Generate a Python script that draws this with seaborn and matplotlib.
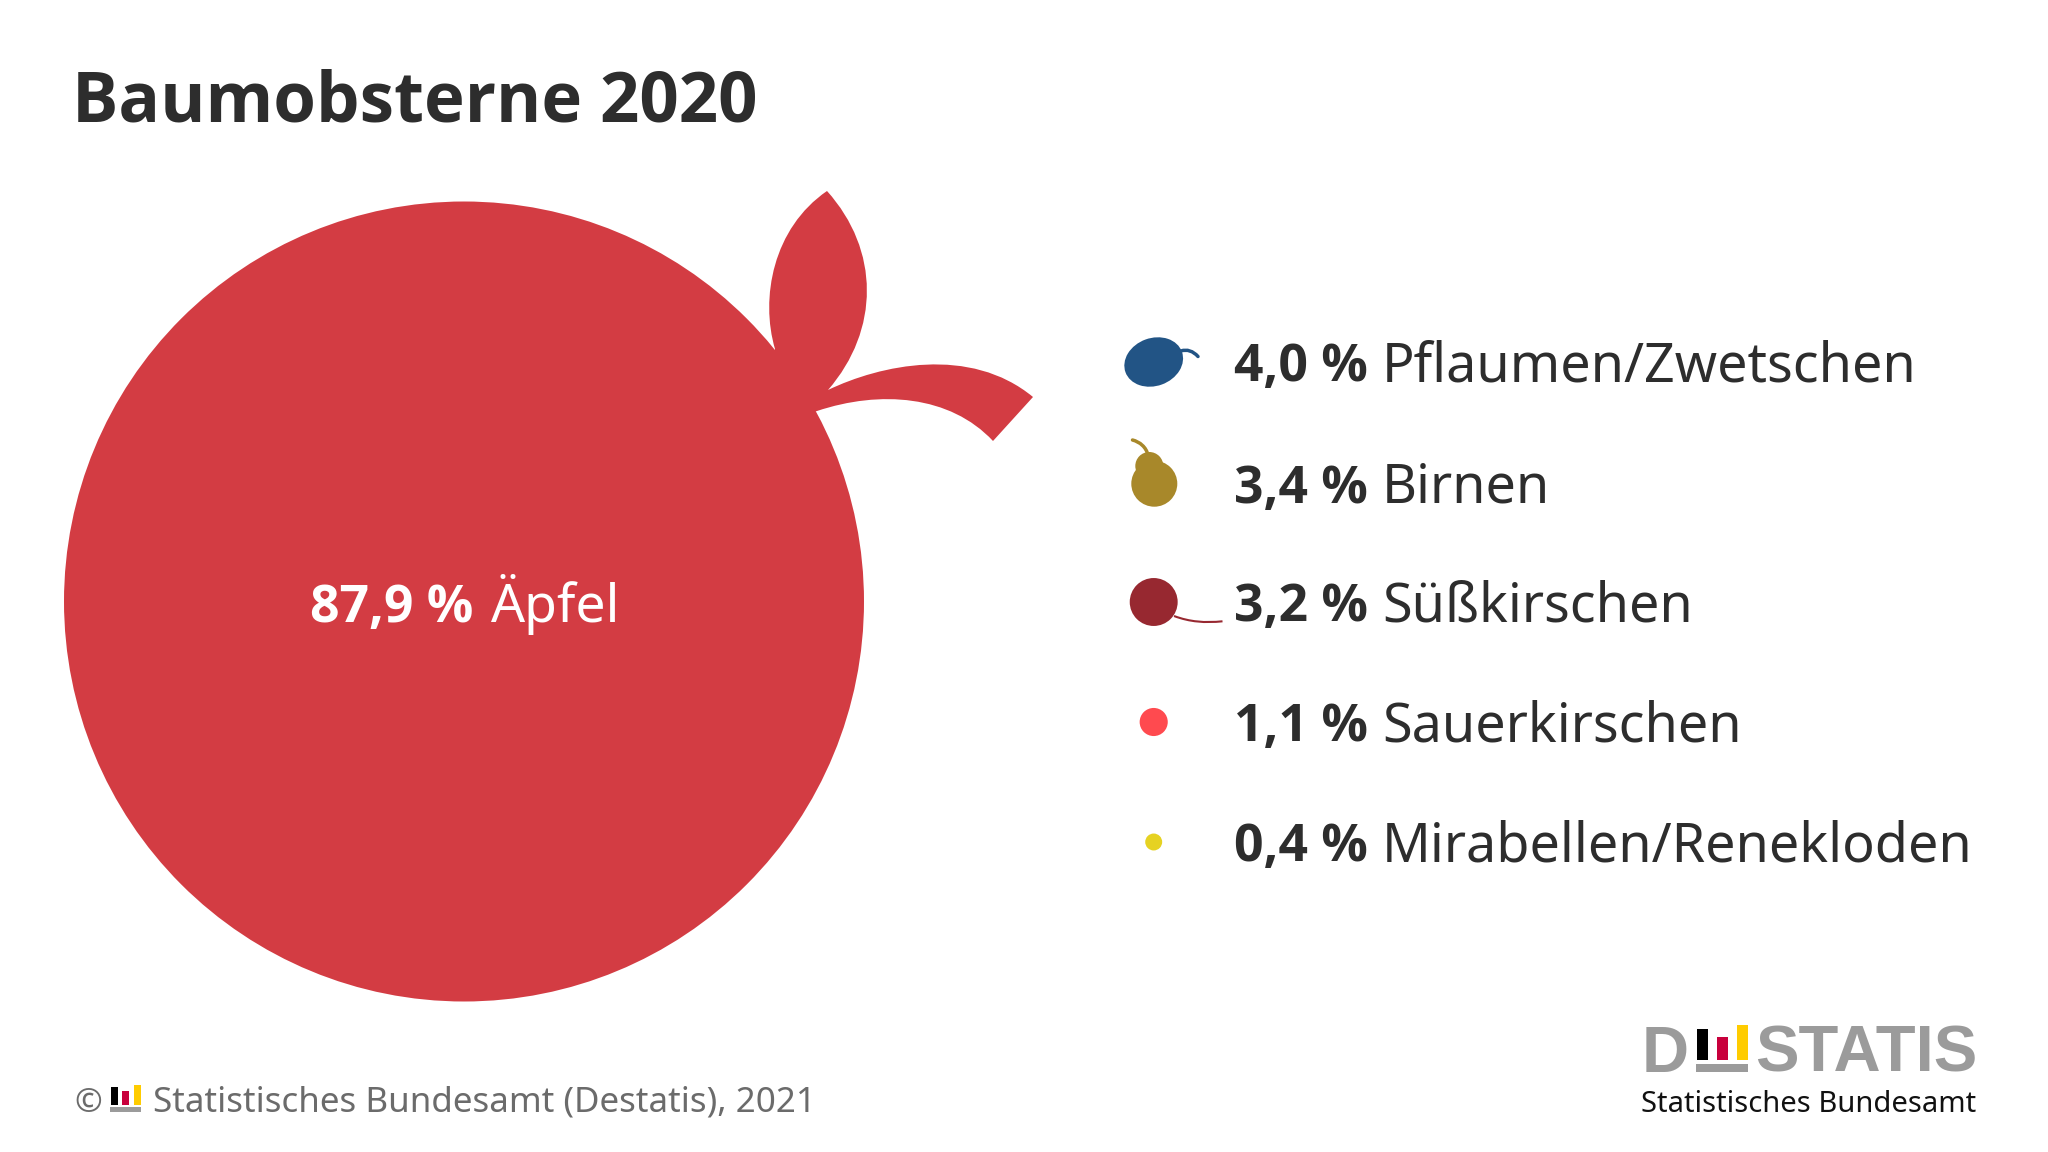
import numpy as np
import pandas as pd
import seaborn as sns
import matplotlib
matplotlib.use("Agg")
import matplotlib.pyplot as plt
from matplotlib.patches import Ellipse, PathPatch, Rectangle, Circle
from matplotlib.path import Path as MPath

# ---- data ----
fruits = ["Äpfel", "Pflaumen/Zwetschen", "Birnen", "Süßkirschen", "Sauerkirschen", "Mirabellen/Renekloden"]
shares = [87.9, 4.0, 3.4, 3.2, 1.1, 0.4]
share_labels = ["87,9 %", "4,0 %", "3,4 %", "3,2 %", "1,1 %", "0,4 %"]
colors = ["#D33C43", "#225485", "#A8882A", "#972830", "#FF4A4F", "#E6D222"]
title = "Baumobsterne 2020"
source = "Statistisches Bundesamt (Destatis), 2021"

# ---- layout (pixel canvas) ----
sns.set_theme(style="white")
FONT = ["Noto Sans", "DejaVu Sans"]
BOLD = ["Open Sans", "DejaVu Sans"]
plt.rcParams["font.family"] = FONT
W, H = 2048, 1152
fig = plt.figure(figsize=(W / 100, H / 100), dpi=100, facecolor="white")
ax = fig.add_axes([0, 0, 1, 1])

INK = "#2D2D2D"
ICON_X = 1153.7
ROW_Y = [362, 483, 602, 722, 842]
K = 13.4            # legend icon radius per sqrt(share)
APPLE_R = 400
APPLE_XY = (464, 601.5)


def s_of(r):
    return (2 * r * 0.72) ** 2


df = pd.DataFrame({"fruit": fruits, "share": shares})
df["x"] = [APPLE_XY[0]] + [ICON_X] * 5
df["y"] = [APPLE_XY[1]] + ROW_Y
df["r"] = [APPLE_R] + [K * np.sqrt(v) for v in shares[1:]]
round_df = df[df["fruit"].isin([fruits[0], fruits[3], fruits[4], fruits[5]])]
sns.scatterplot(data=round_df, x="x", y="y", hue="fruit", size="fruit",
                palette=dict(zip(fruits, colors)),
                sizes={f: s_of(r) for f, r in zip(df["fruit"], df["r"])},
                linewidth=0, legend=False, ax=ax, clip_on=False)
ax.set_xlim(0, W)
ax.set_ylim(H, 0)
ax.axis("off")


def bez(points, **kw):
    codes = [MPath.MOVETO] + [MPath.CURVE4] * (len(points) - 1)
    ax.add_patch(PathPatch(MPath(points, codes), **kw))


# apple leaf + stalk
apple_c = colors[0]
verts = [(775, 349), (760, 298), (773, 228), (827, 191),
         (880, 250), (880, 330), (828, 390),
         (880, 365), (970, 345), (1033, 397),
         (993, 441),
         (950, 395), (880, 390), (817, 411),
         (760, 430), (775, 349)]
codes = [MPath.MOVETO, MPath.CURVE4, MPath.CURVE4, MPath.CURVE4,
         MPath.CURVE4, MPath.CURVE4, MPath.CURVE4,
         MPath.CURVE4, MPath.CURVE4, MPath.CURVE4,
         MPath.LINETO,
         MPath.CURVE4, MPath.CURVE4, MPath.CURVE4,
         MPath.LINETO, MPath.CLOSEPOLY]
ax.add_patch(PathPatch(MPath(verts, codes), fc=apple_c, ec="none"))

# plum
r_plum = df.loc[1, "r"]
ax.add_patch(Ellipse((ICON_X, ROW_Y[0]), 2 * r_plum * 1.12, 2 * r_plum / 1.12, angle=-20,
                     fc=colors[1], ec="none"))
bez([(1181, 351), (1187, 349), (1193, 351), (1198, 356.5)],
    fc="none", ec=colors[1], lw=2.5, capstyle="round")

# pear
ax.add_patch(Circle((1154.3, 483.7), 23, fc=colors[2], ec="none"))
ax.add_patch(Circle((1149.3, 466), 14, fc=colors[2], ec="none"))
bez([(1148, 455), (1146, 447), (1140, 442), (1132.5, 440)], fc="none", ec=colors[2], lw=2.5, capstyle="round")

# cherry stalk
bez([(1174, 616), (1190, 622), (1205, 623), (1222.5, 621.3)], fc="none", ec=colors[3], lw=1.5)

# texts
ax.text(72, 121.5, title, fontsize=49.7, fontweight="bold", family=BOLD, color=INK, ha="left", va="baseline")

ax.text(473, 622, share_labels[0], fontsize=37.2, fontweight="bold", family=BOLD, color="white", ha="right", va="baseline")
ax.text(490, 622, fruits[0], fontsize=38.5, color="white", ha="left", va="baseline")

for lab, name, y in zip(share_labels[1:], fruits[1:], ROW_Y):
    ax.text(1234, y + 19.5, lab, fontsize=37.2, fontweight="bold", family=BOLD, color=INK, ha="left", va="baseline")
    ax.text(1382, y + 19.5, name, fontsize=38.8, color=INK, ha="left", va="baseline")

# footer
GRAY = "#6B6B6B"
ax.text(74, 1111.7, "©", fontsize=24, color=GRAY, ha="left", va="baseline")
ax.text(153, 1111.7, source, fontsize=25.2, color=GRAY, ha="left", va="baseline")
for (x0, x1, y0, y1, c) in [(110.7, 117.7, 1086.7, 1104.7, "#000000"),
                            (122.3, 129, 1091.3, 1104.7, "#C8003C"),
                            (134, 140.7, 1084.7, 1104.7, "#FFCC00"),
                            (110, 141.3, 1107, 1112, "#9B9B9B")]:
    ax.add_patch(Rectangle((x0, y0), x1 - x0, y1 - y0, fc=c, ec="none"))

# logo
LOGO = "#9B9B9B"
ax.text(1642, 1072, "D", fontsize=47, fontweight="bold", family="Liberation Sans", color=LOGO, ha="left", va="baseline")
ax.text(1977, 1072, "STATIS", fontsize=47, fontweight="bold", family="Liberation Sans", color=LOGO, ha="right", va="baseline")
for (x0, x1, y0, y1, c) in [(1696.7, 1708.3, 1029.3, 1060, "#000000"),
                            (1716.7, 1727.7, 1036.7, 1060, "#C8003C"),
                            (1737.3, 1748.3, 1025.3, 1060, "#FFCC00"),
                            (1696, 1748.3, 1064.3, 1072, LOGO)]:
    ax.add_patch(Rectangle((x0, y0), x1 - x0, y1 - y0, fc=c, ec="none"))
ax.text(1976, 1111.5, "Statistisches Bundesamt", fontsize=21, color="#111111", ha="right", va="baseline")

fig.savefig("out.png", dpi=100, facecolor="white")
